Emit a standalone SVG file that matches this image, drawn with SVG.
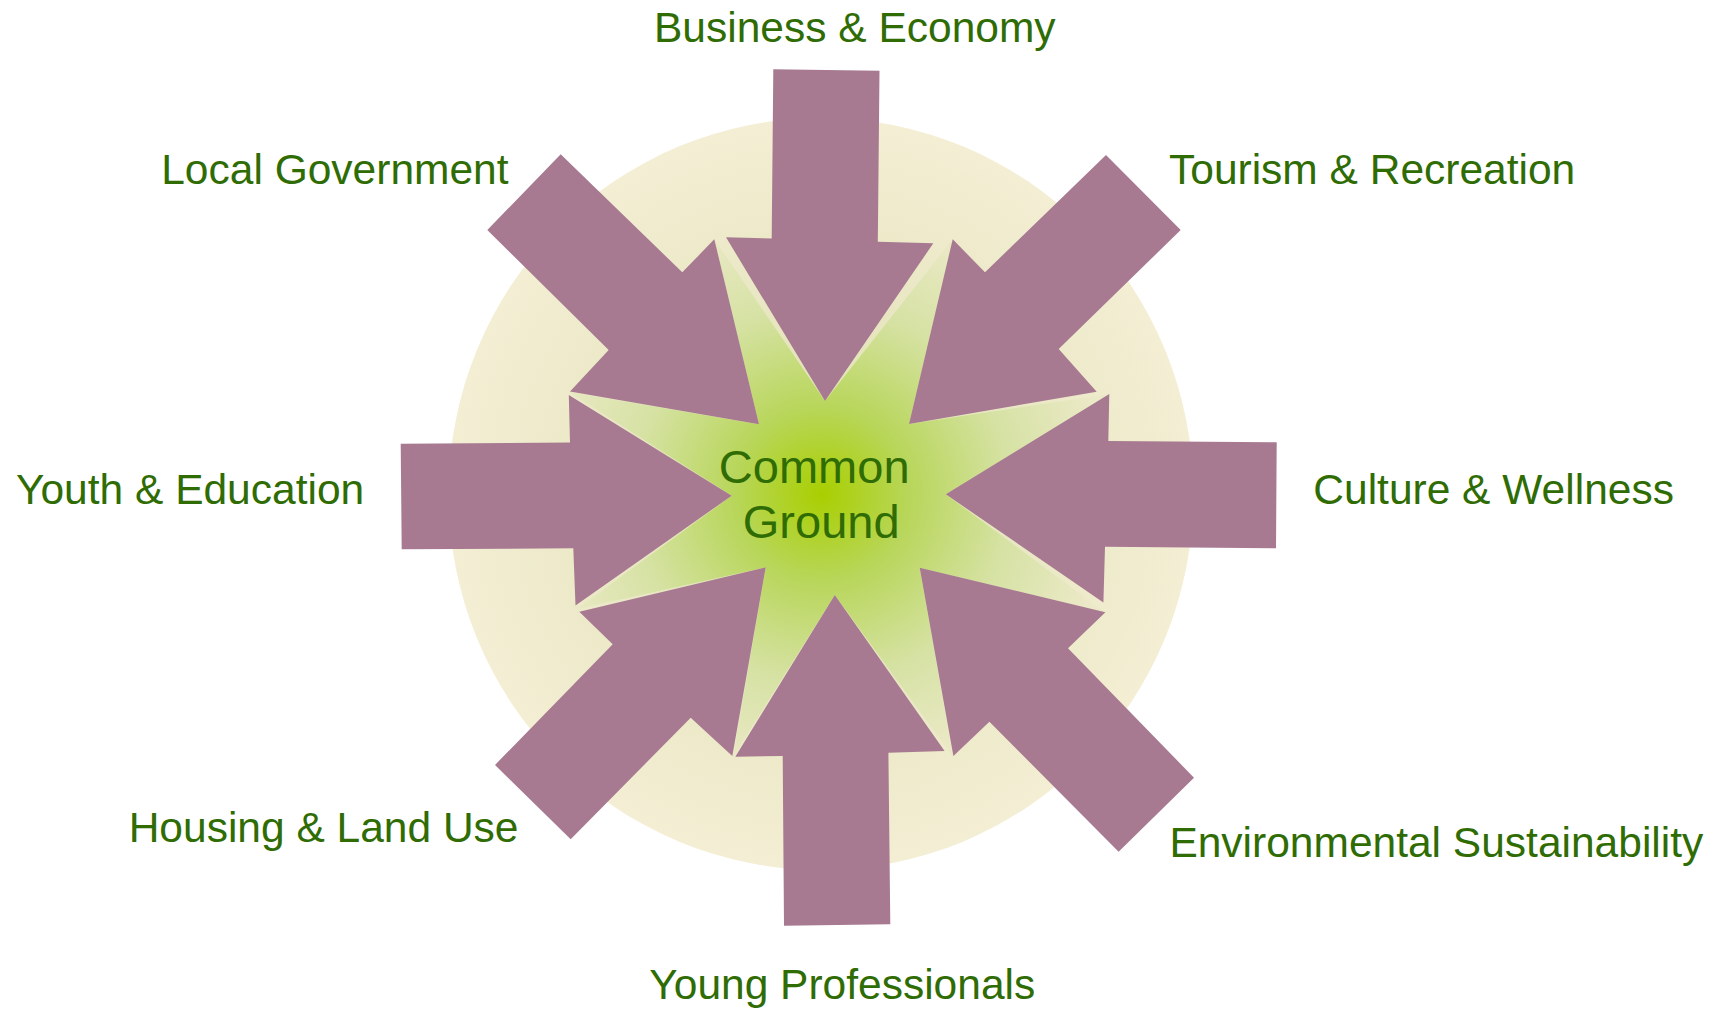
<svg xmlns="http://www.w3.org/2000/svg" width="1723" height="1010" viewBox="0 0 1723 1010">
  <defs>
    <radialGradient id="discGrad" cx="821" cy="494" r="376" gradientUnits="userSpaceOnUse">
      <stop offset="0" stop-color="#dde0a8"/>
      <stop offset="0.55" stop-color="#e9e7c4"/>
      <stop offset="1" stop-color="#f4eed4"/>
    </radialGradient>
    <radialGradient id="starGrad" cx="822" cy="494" r="290" gradientUnits="userSpaceOnUse">
      <stop offset="0" stop-color="#a9cf00"/>
      <stop offset="0.3" stop-color="#b8d65a"/>
      <stop offset="0.65" stop-color="#d6e2a4"/>
      <stop offset="1" stop-color="#ece9c8"/>
    </radialGradient>
    <style>
      .arrow { fill: #a77a91; }
      .label { font-family: "Liberation Sans", Arial, sans-serif; font-size: 42.5px; fill: #2f6c04; }
      .hub-label { font-family: "Liberation Sans", Arial, sans-serif; font-size: 47px; fill: #2f6c04; text-anchor: middle; }
    </style>
  </defs>
  <rect width="1723" height="1010" fill="#ffffff"/>

  <g id="hub">
    <ellipse cx="821" cy="494" rx="372.5" ry="376" fill="url(#discGrad)"/>
    <polygon fill="url(#starGrad)" points="714.3,239 825,401 953,239 909,424 1109.3,394 945.8,494.3 1104.5,612 919.7,567.7 953,757 834.8,595 733,757 765.7,567.3 577,609 731.7,495.7 569,392 759,424.3"/>
  </g>

  <g id="connectors">
    <polygon class="arrow" points="773.3,69.3 879.5,70.7 877.8,241.7 933.3,243.3 825,401 726,237.3 771.7,238.5"/>
    <polygon class="arrow" points="1106,155 1180.7,230 1058.7,349 1096.7,391.7 909,424 952.7,239.3 985,272.3"/>
    <polygon class="arrow" points="1276.7,442.3 1276,548.3 1105,546.7 1103.4,602.5 945.8,494.3 1109.3,394 1108.3,440.9"/>
    <polygon class="arrow" points="1105.4,612.3 1068,648.3 1194,777.7 1118.6,851.7 989.4,721.7 953.4,756 919.7,567.7"/>
    <polygon class="arrow" points="834.8,595 944.6,751 888.4,752.7 890.3,924.3 784,925.7 782.7,756 735.3,756.7"/>
    <polygon class="arrow" points="765.7,567.3 732.3,756 690.7,717.7 570.7,839.3 495,765 612.7,644.3 579.3,611.7"/>
    <polygon class="arrow" points="731.7,495.7 575.5,605.5 573.3,548.3 401.7,549.3 400.7,443.8 570,442.5 568.8,395"/>
    <polygon class="arrow" points="560.7,154.3 682.3,272.3 714.3,239.3 759,424.3 570,391.5 608.7,350 487.3,230"/>
  </g>

  <g id="hub-text">
    <text class="hub-label" x="814.2" y="482.7">Common</text>
    <text class="hub-label" x="821.2" y="538.3">Ground</text>
  </g>

  <g id="node-business"><text class="label" x="654" y="41.7">Business &amp; Economy</text></g>
  <g id="node-tourism"><text class="label" x="1169" y="184">Tourism &amp; Recreation</text></g>
  <g id="node-culture"><text class="label" x="1313.3" y="504.3">Culture &amp; Wellness</text></g>
  <g id="node-environment"><text class="label" x="1169.4" y="856.7">Environmental Sustainability</text></g>
  <g id="node-young"><text class="label" x="649.3" y="999.3">Young Professionals</text></g>
  <g id="node-housing"><text class="label" x="518.5" y="841.5" text-anchor="end">Housing &amp; Land Use</text></g>
  <g id="node-youth"><text class="label" x="16" y="504">Youth &amp; Education</text></g>
  <g id="node-government"><text class="label" x="508.5" y="184" text-anchor="end">Local Government</text></g>
</svg>
